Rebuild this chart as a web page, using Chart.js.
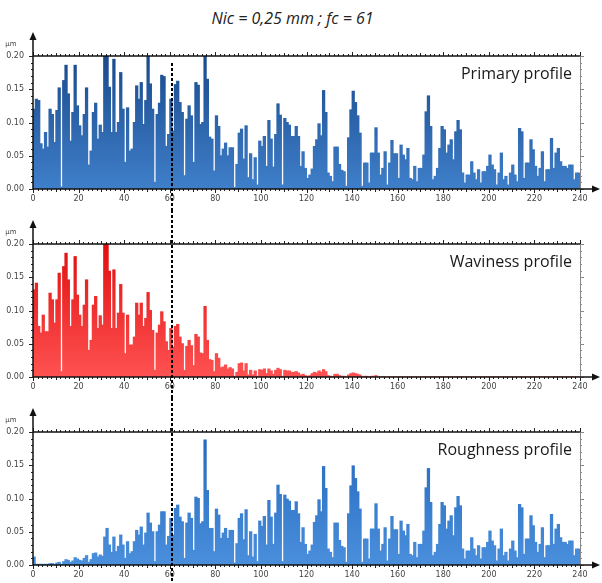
<!DOCTYPE html>
<html>
<head>
<meta charset="utf-8">
<script src="https://cdn.jsdelivr.net/npm/chart.js@4.4.1/dist/chart.umd.min.js"></script>
<style>
  body { margin: 0; background: #fff; width: 602px; height: 583px; position: relative; overflow: hidden; }
  canvas { position: absolute; left: 0; }
  #title { position: absolute; top: 7px; left: 0; width: 585px; text-align: center;
           font: italic 16px "Open Sans"; color: #222; }
</style>
</head>
<body>
<div id="title">Nic = 0,25 mm ; fc = 61</div>
<canvas id="primaryChart" width="602" height="210" style="top:0"></canvas>
<canvas id="wavinessChart" width="602" height="188" style="top:210px"></canvas>
<canvas id="roughnessChart" width="602" height="185" style="top:398px"></canvas>
<script>
// spectrum amplitudes (µm), one per bin 0..239
const primary = [
  0.120, 0.135, 0.133, 0.068, 0.060, 0.085, 0.063, 0.120, 0.112, 0.070,
  0.118, 0.152, 0.003, 0.163, 0.186, 0.143, 0.072, 0.115, 0.186, 0.125,
  0.095, 0.080, 0.112, 0.152, 0.036, 0.057, 0.115, 0.129, 0.075, 0.096,
  0.085, 0.200, 0.200, 0.153, 0.085, 0.195, 0.085, 0.100, 0.175, 0.120,
  0.040, 0.122, 0.057, 0.060, 0.100, 0.155, 0.135, 0.160, 0.097, 0.133,
  0.200, 0.158, 0.120, 0.010, 0.112, 0.129, 0.171, 0.169, 0.064, 0.082,
  0.135, 0.087, 0.157, 0.162, 0.130, 0.115, 0.020, 0.105, 0.125, 0.110,
  0.040, 0.160, 0.156, 0.097, 0.100, 0.200, 0.165, 0.078, 0.075, 0.027,
  0.110, 0.094, 0.050, 0.060, 0.069, 0.050, 0.062, 0.062, 0.002, 0.037,
  0.084, 0.090, 0.045, 0.095, 0.017, 0.053, 0.014, 0.047, 0.006, 0.072,
  0.064, 0.079, 0.034, 0.103, 0.075, 0.033, 0.082, 0.128, 0.111, 0.006,
  0.106, 0.100, 0.096, 0.079, 0.079, 0.094, 0.079, 0.034, 0.056, 0.031,
  0.016, 0.021, 0.030, 0.064, 0.074, 0.098, 0.080, 0.148, 0.115, 0.024,
  0.019, 0.011, 0.063, 0.063, 0.037, 0.028, 0.026, 0.004, 0.077, 0.119,
  0.147, 0.130, 0.110, 0.084, 0.004, 0.039, 0.039, 0.009, 0.054, 0.054,
  0.092, 0.054, 0.021, 0.031, 0.056, 0.006, 0.039, 0.073, 0.053, 0.053,
  0.016, 0.066, 0.051, 0.044, 0.061, 0.016, 0.014, 0.034, 0.011, 0.031,
  0.031, 0.051, 0.116, 0.140, 0.094, 0.014, 0.019, 0.031, 0.061, 0.094,
  0.089, 0.054, 0.066, 0.074, 0.044, 0.086, 0.103, 0.089, 0.024, 0.009,
  0.021, 0.021, 0.041, 0.024, 0.014, 0.029, 0.009, 0.026, 0.026, 0.034,
  0.051, 0.036, 0.029, 0.006, 0.024, 0.054, 0.014, 0.019, 0.006, 0.024,
  0.036, 0.021, 0.011, 0.091, 0.086, 0.016, 0.039, 0.039, 0.074, 0.059,
  0.034, 0.019, 0.031, 0.056, 0.011, 0.029, 0.029, 0.076, 0.031, 0.054,
  0.061, 0.041, 0.034, 0.034, 0.031, 0.036, 0.036, 0.014, 0.024, 0.024
];
const waviness = [
  0.131, 0.141, 0.076, 0.066, 0.093, 0.068, 0.068, 0.126, 0.116, 0.081,
  0.116, 0.156, 0.008, 0.166, 0.186, 0.146, 0.076, 0.116, 0.181, 0.123,
  0.093, 0.076, 0.108, 0.146, 0.040, 0.055, 0.108, 0.121, 0.073, 0.092,
  0.078, 0.200, 0.200, 0.159, 0.073, 0.161, 0.073, 0.096, 0.139, 0.096,
  0.035, 0.093, 0.048, 0.048, 0.060, 0.111, 0.093, 0.111, 0.076, 0.088,
  0.127, 0.100, 0.070, 0.010, 0.066, 0.078, 0.098, 0.083, 0.053, 0.040,
  0.073, 0.045, 0.076, 0.079, 0.060, 0.050, 0.010, 0.046, 0.055, 0.047,
  0.017, 0.064, 0.060, 0.036, 0.035, 0.106, 0.055, 0.026, 0.025, 0.008,
  0.035, 0.028, 0.014, 0.015, 0.018, 0.012, 0.014, 0.012, 0.001, 0.007,
  0.020, 0.021, 0.009, 0.020, 0.003, 0.010, 0.003, 0.009, 0.001, 0.011,
  0.010, 0.012, 0.005, 0.012, 0.009, 0.004, 0.010, 0.013, 0.011, 0.001,
  0.010, 0.009, 0.009, 0.007, 0.007, 0.008, 0.006, 0.003, 0.004, 0.002,
  0.001, 0.002, 0.005, 0.007, 0.006, 0.009, 0.007, 0.011, 0.008, 0.002,
  0.001, 0.001, 0.004, 0.004, 0.002, 0.001, 0.001, 0.000, 0.003, 0.005,
  0.006, 0.005, 0.004, 0.003, 0.000, 0.001, 0.001, 0.000, 0.001, 0.001,
  0.002, 0, 0, 0, 0, 0, 0, 0, 0, 0,
  0, 0, 0, 0, 0, 0, 0, 0, 0, 0,
  0, 0, 0, 0, 0, 0, 0, 0, 0, 0,
  0, 0, 0, 0, 0, 0, 0, 0, 0, 0,
  0, 0, 0, 0, 0, 0, 0, 0, 0, 0,
  0, 0, 0, 0, 0, 0, 0, 0, 0, 0,
  0, 0, 0, 0, 0, 0, 0, 0, 0, 0,
  0, 0, 0, 0, 0, 0, 0, 0, 0, 0,
  0, 0, 0, 0, 0, 0, 0, 0, 0, 0
];
const roughness = [
  0.012, 0.001, 0.001, 0.001, 0.001, 0.001, 0.001, 0.002, 0.002, 0.001,
  0.003, 0.004, 0.001, 0.005, 0.008, 0.007, 0.004, 0.006, 0.011, 0.009,
  0.007, 0.006, 0.010, 0.014, 0.004, 0.008, 0.017, 0.018, 0.012, 0.015,
  0.013, 0.042, 0.055, 0.030, 0.019, 0.042, 0.020, 0.028, 0.045, 0.030,
  0.010, 0.035, 0.017, 0.020, 0.035, 0.052, 0.045, 0.057, 0.030, 0.048,
  0.078, 0.063, 0.050, 0.005, 0.050, 0.060, 0.080, 0.080, 0.030, 0.043,
  0.070, 0.045, 0.085, 0.090, 0.072, 0.065, 0.010, 0.063, 0.078, 0.070,
  0.022, 0.102, 0.100, 0.062, 0.065, 0.188, 0.112, 0.055, 0.055, 0.020,
  0.084, 0.075, 0.040, 0.048, 0.055, 0.040, 0.052, 0.052, 0.003, 0.032,
  0.070, 0.077, 0.038, 0.083, 0.014, 0.050, 0.012, 0.046, 0.005, 0.066,
  0.058, 0.073, 0.030, 0.097, 0.072, 0.031, 0.078, 0.120, 0.106, 0.005,
  0.105, 0.099, 0.096, 0.082, 0.082, 0.095, 0.077, 0.034, 0.056, 0.031,
  0.016, 0.021, 0.030, 0.064, 0.074, 0.098, 0.080, 0.148, 0.115, 0.024,
  0.019, 0.011, 0.063, 0.063, 0.037, 0.028, 0.026, 0.004, 0.077, 0.119,
  0.149, 0.130, 0.110, 0.084, 0.004, 0.039, 0.039, 0.009, 0.054, 0.054,
  0.092, 0.054, 0.021, 0.031, 0.056, 0.006, 0.039, 0.073, 0.053, 0.053,
  0.016, 0.066, 0.051, 0.044, 0.061, 0.016, 0.014, 0.034, 0.011, 0.031,
  0.031, 0.051, 0.116, 0.145, 0.094, 0.014, 0.019, 0.031, 0.061, 0.094,
  0.089, 0.054, 0.066, 0.074, 0.044, 0.086, 0.103, 0.089, 0.024, 0.009,
  0.021, 0.021, 0.041, 0.024, 0.014, 0.029, 0.009, 0.026, 0.026, 0.034,
  0.051, 0.036, 0.029, 0.006, 0.024, 0.054, 0.014, 0.019, 0.006, 0.024,
  0.036, 0.021, 0.011, 0.091, 0.086, 0.016, 0.039, 0.039, 0.074, 0.059,
  0.034, 0.019, 0.031, 0.056, 0.011, 0.029, 0.029, 0.076, 0.031, 0.054,
  0.061, 0.041, 0.034, 0.034, 0.031, 0.036, 0.036, 0.014, 0.024, 0.024
];
const xTicks = [0, 20, 40, 60, 80, 100, 120, 140, 160, 180, 200, 220, 240];
const yTicks = [0.00, 0.05, 0.10, 0.15, 0.20];
const cutoff = 61;

Chart.defaults.font.family = "DejaVu Sans";
Chart.defaults.color = "#444";

function gradientFill(topColor, bottomColor) {
  return (c) => {
    const a = c.chart.chartArea;
    if (!a) return bottomColor;
    const g = c.chart.ctx.createLinearGradient(0, a.top, 0, a.bottom);
    g.addColorStop(0, topColor);
    g.addColorStop(1, bottomColor);
    return g;
  };
}

function seg(ctx, x1, y1, x2, y2) {
  ctx.beginPath();
  ctx.moveTo(x1, y1);
  ctx.lineTo(x2, y2);
  ctx.stroke();
}

// box, minor ticks, arrows, unit, panel name and cut-off line
const framePlugin = {
  id: "frame",
  afterDraw(chart, args, opts) {
    const { ctx, chartArea: a, scales } = chart;
    const x = scales.x, y = scales.y;
    ctx.save();
    ctx.lineWidth = 1;
    ctx.strokeStyle = "#222";

    for (let v = 0; v <= 240; v += 2) {
      const px = Math.round(x.getPixelForValue(v)) + 0.5;
      const len = v % 20 === 0 ? 4 : v % 10 === 0 ? 3 : 2;
      seg(ctx, px, a.top, px, a.top - len);
      seg(ctx, px, a.bottom, px, a.bottom + len);
    }
    for (let k = 0; k <= 20; k++) {
      const py = Math.round(y.getPixelForValue(k / 100)) + 0.5;
      const len = k % 5 === 0 ? 4 : 2;
      ctx.strokeStyle = "#222";
      seg(ctx, a.left, py, a.left - len, py);
      ctx.strokeStyle = "#888";
      seg(ctx, a.right, py, a.right + len, py);
    }

    ctx.strokeStyle = "#888";
    seg(ctx, Math.round(a.right) + 0.5, a.top, Math.round(a.right) + 0.5, a.bottom);

    ctx.strokeStyle = "#111";
    ctx.lineWidth = 1.5;
    seg(ctx, a.left, a.top, a.right, a.top);
    const tipX = chart.width - 2;
    seg(ctx, a.left, a.bottom, tipX - 4, a.bottom);
    const tipY = a.top - 24;
    seg(ctx, a.left, a.bottom, a.left, tipY + 4);

    ctx.fillStyle = "#111";
    ctx.beginPath();
    ctx.moveTo(tipX, a.bottom);
    ctx.lineTo(tipX - 8, a.bottom - 3.5);
    ctx.lineTo(tipX - 8, a.bottom + 3.5);
    ctx.closePath();
    ctx.fill();
    ctx.beginPath();
    ctx.moveTo(a.left, tipY);
    ctx.lineTo(a.left - 3.5, tipY + 8);
    ctx.lineTo(a.left + 3.5, tipY + 8);
    ctx.closePath();
    ctx.fill();

    ctx.fillStyle = "#444";
    ctx.font = "7px 'DejaVu Sans'";
    ctx.textAlign = "center";
    ctx.textBaseline = "middle";
    ctx.fillText("µm", 11, a.top - 12);

    ctx.fillStyle = "#1a1a1a";
    ctx.font = "16px 'Open Sans'";
    ctx.textAlign = "right";
    ctx.textBaseline = "alphabetic";
    ctx.fillText(opts.name, a.right - 8, a.top + 23);

    const cx = Math.round(x.getPixelForValue(cutoff));
    ctx.strokeStyle = "#000";
    ctx.lineWidth = 2;
    ctx.setLineDash([3, 2]);
    seg(ctx, cx, opts.first ? a.top + 7 : 0, cx, chart.height);
    ctx.restore();
  }
};

function makeChart(id, name, values, topColor, bottomColor, top, xHeight, first) {
  const bins = values.map((v, i) => ({ x: i + 0.5, y: v }));
  return new Chart(document.getElementById(id), {
    type: "bar",
    data: {
      datasets: [{
        data: bins,
        backgroundColor: gradientFill(topColor, bottomColor),
        borderWidth: 0,
        inflateAmount: 0.5,
        barPercentage: 1,
        categoryPercentage: 1
      }]
    },
    options: {
      responsive: false,
      animation: false,
      layout: { padding: { left: 0, right: 22, top: top, bottom: 0 } },
      plugins: {
        legend: { display: false },
        tooltip: { enabled: false },
        frame: { name: name, first: first }
      },
      scales: {
        x: {
          type: "linear",
          offset: false,
          min: 0,
          max: 240,
          afterBuildTicks: (s) => { s.ticks = xTicks.map((v) => ({ value: v })); },
          ticks: { font: { size: 8 }, padding: 5, maxRotation: 0 },
          grid: { display: false, drawTicks: false },
          border: { display: false },
          afterFit: (s) => { s.height = xHeight; }
        },
        y: {
          min: 0,
          max: 0.2,
          afterBuildTicks: (s) => { s.ticks = yTicks.map((v) => ({ value: v })); },
          ticks: { font: { size: 8 }, padding: 9, callback: (v) => v.toFixed(2) },
          grid: { display: false, drawTicks: false },
          border: { display: false },
          afterFit: (s) => { s.width = 33; }
        }
      }
    },
    plugins: [framePlugin]
  });
}

makeChart("primaryChart", "Primary profile", primary, "#1a4a8c", "#3f7fca", 56, 21, true);
makeChart("wavinessChart", "Waviness profile", waviness, "#e00f0f", "#ff5252", 34, 21, false);
makeChart("roughnessChart", "Roughness profile", roughness, "#2467bd", "#4a8fdc", 34, 18, false);
</script>
</body>
</html>
